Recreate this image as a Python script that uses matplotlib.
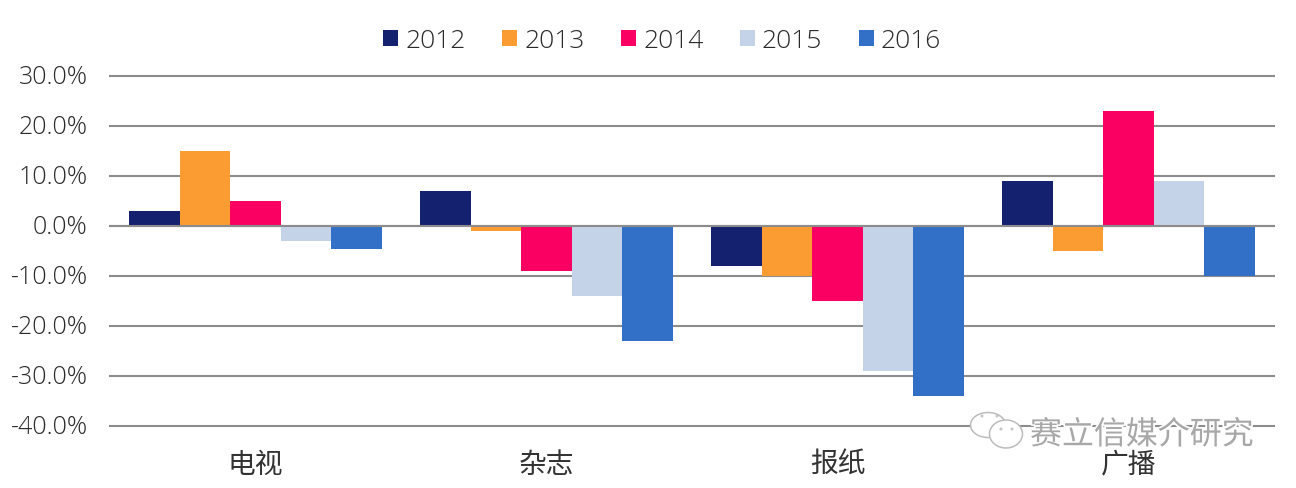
import matplotlib
matplotlib.use('Agg')
import matplotlib.pyplot as plt
from matplotlib.patches import Ellipse
from matplotlib.transforms import ScaledTranslation
import matplotlib.patheffects as pe
import numpy as np

LATIN = ['Open Sans', 'Noto Sans CJK SC', 'DejaVu Sans']
CJK = ['Noto Sans CJK SC', 'DejaVu Sans']
plt.rcParams['font.family'] = LATIN

categories = ['电视', '杂志', '报纸', '广播']
years = ['2012', '2013', '2014', '2015', '2016']
v2012 = [3, 7, -8, 9]
v2013 = [15, -1, -10, -5]
v2014 = [5, -9, -15, 23]
v2015 = [-3, -14, -29, 9]
v2016 = [-4.5, -23, -34, -10]
series = [v2012, v2013, v2014, v2015, v2016]
colors = ['#14216e', '#fb9c33', '#fb0063', '#c5d3e8', '#3170c6']
yticks = [30, 20, 10, 0, -10, -20, -30, -40]

W, H = 1296, 488
fig = plt.figure(figsize=(W/100, H/100), dpi=100)
ax = fig.add_axes([110/W, 1-426/H, (1274-110)/W, (426-76)/H])
ax.set_xlim(-0.5, 3.5)
ax.set_ylim(-40, 30)
bw = 50.5/(1164/4)
x = np.arange(4)
for i, (s, c, y) in enumerate(zip(series, colors, years)):
    ax.bar(x + (i-2)*bw, s, bw, color=c, label=y, zorder=3, linewidth=0)
ax.set_yticks(yticks)
ax.set_yticklabels([f'{t:.1f}%' for t in yticks], fontsize=18, color='#2a2a2a', fontweight='light')
ax.set_xticks(x)
ax.set_xticklabels(categories, fontsize=20, color='#333333', family=CJK, fontweight='light')
ax.tick_params(length=0)
ax.tick_params(axis='x', pad=17)
ax.tick_params(axis='y', pad=16)
shift = ScaledTranslation(0, 2/100, fig.dpi_scale_trans)
for lab in ax.get_yticklabels():
    lab.set_transform(lab.get_transform() + shift)
ax.grid(axis='y', color='#8c8c8c', lw=1.5, zorder=1)
for gl in ax.get_ygridlines():
    gl.set_clip_on(False)
ax.set_axisbelow(True)
for s in ax.spines.values():
    s.set_visible(False)
ax.axhline(0, color='#8c8c8c', lw=1.5, zorder=4)
ax.legend(loc='center', bbox_to_anchor=(662/W, 1-41/H), bbox_transform=fig.transFigure,
          ncol=5, frameon=False,
          prop={'family': LATIN, 'size': 19, 'weight': 'light'},
          handlelength=0.57, handleheight=0.57,
          columnspacing=1.38, handletextpad=0.27, labelcolor='#2a2a2a')

# watermark: chat-bubble outlines and embossed text
for cx, cy, w, h in [(988, 425, 35, 25), (1006, 434, 33, 28)]:
    fig.add_artist(Ellipse((cx/W, 1-cy/H), w/W, h/H, transform=fig.transFigure,
                           facecolor='white', edgecolor='#bcbcbc', lw=1.1, zorder=5))
for px, py in [(982, 416), (997, 416), (1001, 429), (1012, 429)]:
    fig.add_artist(Ellipse((px/W, 1-py/H), 3/W, 3/H, transform=fig.transFigure,
                           facecolor='#c4c4c4', edgecolor='none', zorder=6))
wm = fig.text(1030/W, 1-435/H, '赛立信媒介研究', fontsize=23, color='#a8a8a8', va='center', ha='left',
              family=CJK, fontweight='light', zorder=6)
wm.set_path_effects([pe.withStroke(linewidth=2.5, foreground='white')])
fig.savefig('out.png', dpi=100)
